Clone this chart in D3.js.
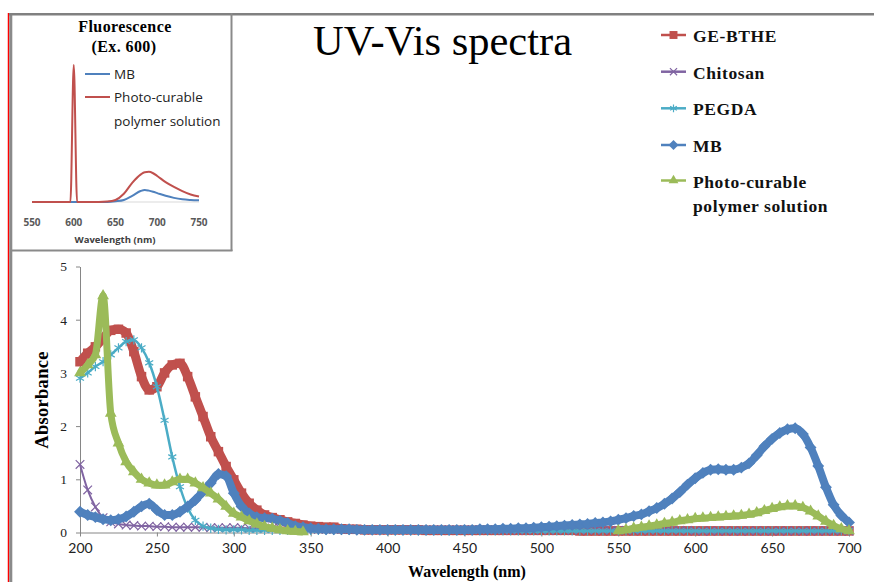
<!DOCTYPE html>
<html>
<head>
<meta charset="utf-8">
<script src="https://cdn.jsdelivr.net/npm/d3@7"></script>
<style>
body { margin: 0; background: #fff; }
svg { display: block; }
</style>
</head>
<body>
<div id="chart"></div>
<script>
// main chart: absorbance read every 5 nm
const wavelengths = d3.range(200, 701, 5);

const geBthe = [
  3.21,3.37,3.49,3.65,3.80,3.82,3.75,3.40,2.93,2.68,
  2.74,3.00,3.15,3.18,2.93,2.55,2.18,1.80,1.52,1.24,
  0.99,0.74,0.55,0.42,0.33,0.28,0.24,0.20,0.17,0.14,
  0.12,0.11,0.10,0.10,0.07,0.06,0.06,0.05,0.05,0.05,
  0.05,0.05,0.05,0.05,0.05,0.04,0.04,0.04,0.04,0.04,
  0.04,0.04,0.04,0.04,0.04,0.04,0.04,0.04,0.04,0.04,
  0.04,0.04,0.04,0.04,0.04,0.03,0.03,0.03,0.03,0.03,
  0.03,0.03,0.03,0.03,0.03,0.03,0.03,0.03,0.03,0.03,
  0.03,0.03,0.03,0.03,0.03,0.03,0.03,0.03,0.03,0.03,
  0.03,0.03,0.03,0.03,0.03,0.03,0.03,0.03,0.03,0.03,
  0.03];

const chitosan = [
  1.28,0.80,0.48,0.28,0.20,0.16,0.14,0.13,0.12,0.12,
  0.11,0.11,0.10,0.10,0.10,0.10,0.10,0.09,0.09,0.09,
  0.09,0.09,0.08,0.08,0.08,0.08,0.08,0.07,0.07,0.07,
  0.06,0.06,0.06,0.06,0.06,0.06,0.06,0.05,0.05,0.05,
  0.05,0.05,0.05,0.05,0.05,0.05,0.05,0.05,0.05,0.05,
  0.05,0.05,0.05,0.05,0.05,0.04,0.04,0.04,0.04,0.04,
  0.04,0.04,0.04,0.04,0.04,0.04,0.04,0.04,0.04,0.04,
  0.04,0.04,0.04,0.04,0.04,0.04,0.04,0.04,0.04,0.04,
  0.03,0.03,0.03,0.03,0.03,0.03,0.03,0.03,0.03,0.03,
  0.03,0.03,0.03,0.03,0.03,0.03,0.03,0.03,0.03,0.03,
  0.03];

const pegda = [
  2.90,3.00,3.12,3.21,3.34,3.47,3.59,3.62,3.47,3.19,
  2.74,2.11,1.42,0.86,0.46,0.23,0.12,0.08,0.06,0.05,
  0.05,0.05,0.04,0.04,0.04,0.04,0.04,0.04,0.04,0.04,
  0.04,0.04,0.04,0.04,0.04,0.04,0.04,0.04,0.04,0.04,
  0.03,0.03,0.03,0.03,0.03,0.03,0.03,0.03,0.03,0.03,
  0.03,0.03,0.03,0.03,0.03,0.03,0.03,0.03,0.03,0.03,
  0.03,0.03,0.03,0.03,0.03,0.03,0.03,0.03,0.03,0.03,
  0.03,0.03,0.03,0.03,0.03,0.03,0.03,0.03,0.03,0.03,
  0.03,0.03,0.03,0.03,0.03,0.03,0.03,0.03,0.03,0.03,
  0.03,0.03,0.03,0.03,0.03,0.03,0.03,0.03,0.03,0.03,
  0.03];

const mb = [
  0.39,0.33,0.29,0.25,0.23,0.25,0.30,0.39,0.49,0.54,
  0.42,0.33,0.33,0.39,0.49,0.61,0.77,0.93,1.10,1.06,
  0.74,0.49,0.36,0.29,0.27,0.26,0.22,0.18,0.12,0.10,
  0.08,0.07,0.06,0.06,0.06,0.06,0.05,0.05,0.05,0.05,
  0.05,0.05,0.05,0.05,0.05,0.05,0.05,0.05,0.05,0.05,
  0.05,0.05,0.06,0.06,0.06,0.07,0.07,0.08,0.08,0.09,
  0.10,0.11,0.12,0.13,0.14,0.15,0.16,0.18,0.19,0.21,
  0.24,0.27,0.31,0.34,0.40,0.46,0.54,0.64,0.76,0.90,
  1.02,1.12,1.18,1.19,1.18,1.18,1.22,1.30,1.45,1.62,
  1.76,1.87,1.94,1.96,1.85,1.60,1.25,0.85,0.52,0.32,
  0.19];

// photo-curable polymer solution, no points recorded between 350 and 545 nm
const photoCurable = [
  3.00,3.15,3.34,4.45,2.24,1.68,1.33,1.14,1.00,0.93,
  0.89,0.89,0.95,1.00,1.00,0.93,0.84,0.74,0.63,0.49,
  0.36,0.29,0.22,0.16,0.11,0.08,0.05,0.03,0.02,0.01,
  null,null,null,null,null,null,null,null,null,null,
  null,null,null,null,null,null,null,null,null,null,
  null,null,null,null,null,null,null,null,null,null,
  null,null,null,null,null,null,null,null,null,null,
  0.03,0.05,0.08,0.10,0.12,0.14,0.17,0.19,0.22,0.24,
  0.26,0.27,0.28,0.29,0.30,0.31,0.32,0.34,0.37,0.41,
  0.45,0.48,0.50,0.50,0.47,0.40,0.31,0.21,0.13,0.07,
  0.03];

const seriesNames = ["GE-BTHE", "Chitosan", "PEGDA", "MB", "Photo-curable polymer solution"];
const seriesColors = ["#C0504D", "#8064A2", "#4BACC6", "#4F81BD", "#9BBB59"];
const xTicks = [200, 250, 300, 350, 400, 450, 500, 550, 600, 650, 700];
const yTicks = [0, 1, 2, 3, 4, 5];

// inset: fluorescence, excitation 600 nm (arbitrary intensity)
const fluoWave = [550,596,600,604,630,640,650,660,670,680,685,690,695,700,710,720,730,740,750];
const fluoPolymer = [0,0,100,0,0,0.3,1.5,6,14,20,21.8,22,21,19,14.5,11,8,5.5,4];
const fluoMB = [0,0,0,0,0,0,0.5,1.5,4.5,8,8.8,8.3,7.5,6.5,4.5,3,2,1.5,1.2];
const fluoTicks = [550, 600, 650, 700, 750];

const width = 874, height = 582;
const svg = d3.select("#chart").append("svg")
    .attr("width", width).attr("height", height);

svg.append("rect").attr("width", width).attr("height", height).attr("fill", "#fff");

// page frame
svg.append("line").attr("x1", 8.5).attr("x2", 8.5).attr("y1", 13).attr("y2", height)
    .attr("stroke", "#ff0000").attr("stroke-width", 1.5);
svg.append("line").attr("x1", 10.8).attr("x2", 10.8).attr("y1", 13).attr("y2", height)
    .attr("stroke", "#8a8a8a").attr("stroke-width", 3);
svg.append("line").attr("x1", 9).attr("x2", width).attr("y1", 14.3).attr("y2", 14.3)
    .attr("stroke", "#808080").attr("stroke-width", 2.5);
svg.append("line").attr("x1", 231.5).attr("x2", 231.5).attr("y1", 13).attr("y2", 251)
    .attr("stroke", "#8a8a8a").attr("stroke-width", 2);
svg.append("line").attr("x1", 10).attr("x2", 232.5).attr("y1", 250.5).attr("y2", 250.5)
    .attr("stroke", "#8a8a8a").attr("stroke-width", 2);

// ---------- main chart ----------
const x = d3.scaleLinear().domain([200, 700]).range([80, 849]);
const y = d3.scaleLinear().domain([0, 5]).range([532.5, 266.5]);

const gx = svg.append("g").attr("transform", "translate(0,532.5)")
    .call(d3.axisBottom(x).tickValues(xTicks).tickSize(4).tickSizeOuter(0).tickPadding(7));
gx.select(".domain").attr("stroke", "#868686");
gx.selectAll(".tick line").attr("stroke", "#868686");
gx.selectAll("text").attr("font-family", "Lato, 'Liberation Sans', sans-serif")
    .attr("font-size", 14).attr("fill", "#222");

const gy = svg.append("g").attr("transform", "translate(80,0)")
    .call(d3.axisLeft(y).tickValues(yTicks).tickFormat(d3.format("d"))
      .tickSize(4).tickSizeOuter(0).tickPadding(9));
gy.select(".domain").attr("stroke", "#868686");
gy.selectAll(".tick line").attr("stroke", "#868686");
gy.selectAll("text").attr("font-family", "'Liberation Serif', serif")
    .attr("font-size", 13.5).attr("fill", "#222");

svg.append("text").attr("transform", "translate(48,400) rotate(-90)")
    .attr("text-anchor", "middle").attr("font-family", "'Liberation Serif', serif")
    .attr("font-weight", "bold").attr("font-size", 18.5).attr("letter-spacing", 0.3)
    .text("Absorbance");
svg.append("text").attr("x", 467).attr("y", 577)
    .attr("text-anchor", "middle").attr("font-family", "'Liberation Serif', serif")
    .attr("font-weight", "bold").attr("font-size", 16)
    .text("Wavelength (nm)");

svg.append("text").attr("x", 442.5).attr("y", 55)
    .attr("text-anchor", "middle").attr("font-family", "'Liberation Serif', serif")
    .attr("font-size", 42.5).text("UV-Vis spectra");

const allSeries = [geBthe, chitosan, pegda, mb, photoCurable];
const lineWidths = [9, 2, 2.5, 8, 7];
const symbols = [d3.symbolSquare, d3.symbolTimes, d3.symbolAsterisk, d3.symbolDiamond2, d3.symbolTriangle];
const symbolSizes = [90, 50, 60, 90, 60];
const strokeSymbol = [false, true, true, false, false];

const plot = svg.append("g");
allSeries.forEach((vals, i) => {
  const pts = wavelengths.map((w, j) => ({ w: w, v: vals[j] }));
  const line = d3.line()
      .defined(d => d.v != null)
      .x(d => x(d.w)).y(d => y(d.v))
      .curve(d3.curveMonotoneX);
  plot.append("path").datum(pts)
      .attr("fill", "none").attr("stroke", seriesColors[i])
      .attr("stroke-width", lineWidths[i]).attr("stroke-linejoin", "round")
      .attr("d", line);
  const sym = d3.symbol().type(symbols[i]).size(symbolSizes[i]);
  plot.append("g").selectAll("path")
    .data(pts.filter(d => d.v != null))
    .join("path")
      .attr("transform", d => `translate(${x(d.w)},${y(d.v)})`)
      .attr("d", sym)
      .attr("fill", strokeSymbol[i] ? "none" : seriesColors[i])
      .attr("stroke", strokeSymbol[i] ? seriesColors[i] : "none")
      .attr("stroke-width", 1.2);
});

// legend
const legendY = [35, 71.7, 108.3, 145, 180.5];
const legend = svg.append("g");
seriesNames.forEach((name, i) => {
  const g = legend.append("g").attr("transform", `translate(0,${legendY[i]})`);
  g.append("line").attr("x1", 661).attr("x2", 686)
      .attr("stroke", seriesColors[i]).attr("stroke-width", 2.5);
  g.append("path").attr("transform", "translate(673.5,0)")
      .attr("d", d3.symbol().type(symbols[i]).size(symbolSizes[i] * 0.7))
      .attr("fill", strokeSymbol[i] ? "none" : seriesColors[i])
      .attr("stroke", strokeSymbol[i] ? seriesColors[i] : "none")
      .attr("stroke-width", 1.2);
  const t = g.append("text").attr("x", 693).attr("y", 7)
      .attr("font-family", "'Liberation Serif', serif").attr("font-weight", "bold")
      .attr("font-size", 17.5).attr("letter-spacing", 0.6).attr("fill", "#111");
  if (name.startsWith("Photo")) {
    t.append("tspan").attr("x", 693).text("Photo-curable");
    t.append("tspan").attr("x", 693).attr("dy", 24).text("polymer solution");
  } else {
    t.text(name);
  }
});

// ---------- inset ----------
const ix = d3.scaleLinear().domain([550, 750]).range([32, 199]);
const iy = d3.scaleLinear().domain([0, 100]).range([202, 65]);

svg.append("line").attr("x1", ix(550)).attr("x2", ix(750)).attr("y1", 202).attr("y2", 202)
    .attr("stroke", "#d9d9d9").attr("stroke-width", 1);

svg.append("g").selectAll("text").data(fluoTicks).join("text")
    .attr("x", d => ix(d)).attr("y", 226).attr("text-anchor", "middle")
    .attr("font-family", "'Open Sans', sans-serif").attr("font-weight", "bold")
    .attr("font-size", 10).attr("fill", "#595959").text(d => d);
svg.append("text").attr("x", 115).attr("y", 243).attr("text-anchor", "middle")
    .attr("font-family", "'Open Sans', sans-serif").attr("font-weight", "bold")
    .attr("font-size", 9.5).attr("fill", "#404040").text("Wavelength (nm)");

const iline = d3.line().x(d => ix(d.w)).y(d => iy(d.v));
[[fluoMB, "#4F81BD"], [fluoPolymer, "#C0504D"]].forEach(([vals, col]) => {
  svg.append("path")
      .datum(fluoWave.map((w, j) => ({ w: w, v: vals[j] })))
      .attr("fill", "none").attr("stroke", col).attr("stroke-width", 2)
      .attr("stroke-linejoin", "round")
      .attr("d", iline.curve(d3.curveMonotoneX));
});

svg.append("text").attr("x", 125).attr("y", 32).attr("text-anchor", "middle")
    .attr("font-family", "'Liberation Serif', serif").attr("font-weight", "bold")
    .attr("font-size", 16).attr("letter-spacing", 0.4).text("Fluorescence");
svg.append("text").attr("x", 124).attr("y", 52).attr("text-anchor", "middle")
    .attr("font-family", "'Liberation Serif', serif").attr("font-weight", "bold")
    .attr("font-size", 16).attr("letter-spacing", 0.4).text("(Ex. 600)");

const insetLegend = [["MB", "#4F81BD", 74], ["Photo-curable", "#C0504D", 97]];
insetLegend.forEach(([name, col, ly]) => {
  svg.append("line").attr("x1", 85).attr("x2", 110).attr("y1", ly).attr("y2", ly)
      .attr("stroke", col).attr("stroke-width", 2);
  svg.append("text").attr("x", 114).attr("y", ly + 5)
      .attr("font-family", "'Open Sans', sans-serif").attr("font-size", 13.5)
      .attr("fill", "#222").text(name);
});
svg.append("text").attr("x", 114).attr("y", 126)
    .attr("font-family", "'Open Sans', sans-serif").attr("font-size", 13.5)
    .attr("fill", "#222").text("polymer solution");
</script>
</body>
</html>
